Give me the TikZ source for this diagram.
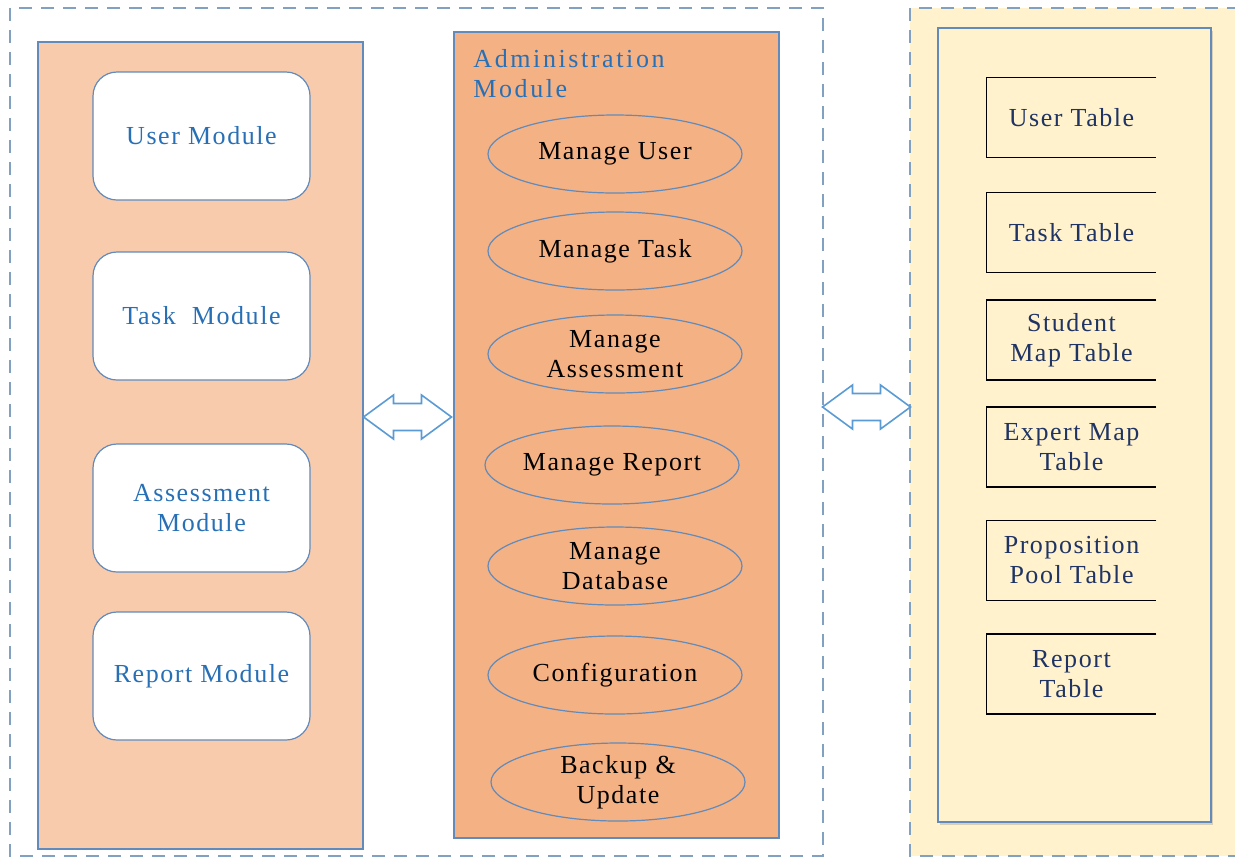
\documentclass[tikz,border=0pt]{standalone}
\usepackage{fontspec}
\setmainfont{Liberation Serif}[LetterSpace=6]
\usetikzlibrary{shapes.geometric,fit,shadows}

\definecolor{dashblue}{RGB}{130,160,192}
\definecolor{edgeblue}{RGB}{98,138,186}
\definecolor{arrowblue}{RGB}{91,155,213}
\definecolor{modtext}{RGB}{40,112,182}
\definecolor{tabletext}{RGB}{31,52,100}
\definecolor{modfill}{RGB}{248,203,173}
\definecolor{adminfill}{RGB}{244,177,131}
\definecolor{cream}{RGB}{255,242,204}

\def\linkarrow(#1){\draw[link] ([shift={(-44,0)}]#1) -- ++(30,-22) -- ++(0,8.5) -- ++(28,0) -- ++(0,-8.5) -- ++(30,22) -- ++(-30,22) -- ++(0,-8.5) -- ++(-28,0) -- ++(0,8.5) -- cycle;}

\tikzset{
	frame/.style={draw=dashblue, line width=1pt, dash pattern=on 6.5pt off 4.5pt},
	panel/.style={draw=edgeblue, line width=0.6pt, inner sep=0pt},
	modbox/.style={draw=edgeblue, line width=0.6pt, fill=white, rounded corners=12pt,
		minimum width=108.5pt, minimum height=64pt, align=center, text=modtext, font=\fontsize{13}{15}\selectfont},
	task/.style={ellipse, draw=edgeblue, line width=0.6pt, minimum width=127pt, minimum height=39pt,
		inner sep=0pt, align=center, font=\fontsize{13}{15}\selectfont},
	tbl/.style={minimum width=84.5pt, minimum height=39.5pt, inner sep=0pt, align=center,
		text=tabletext, font=\fontsize{13}{15}\selectfont},
	link/.style={draw=arrowblue, line width=0.8pt, fill=white, line join=miter}
}

\begin{document}
\begin{tikzpicture}[x=0.5pt, y=-0.5pt]
	%%%%% FRAMES %%%%%
	\useasboundingbox (0,0) rectangle (1235,858);
	\fill[cream] (910,8) rectangle (1240,856);
	\draw[frame] (10,8) rectangle (823,856);
	\draw[frame] (1240,8) -- (910,8) -- (910,856) -- (1240,856);
	
	%%%%% PANELS %%%%%
	\node[panel, fill=modfill, fit={(38,42) (363,849)}] (modpanel) {};
	\node[panel, fill=adminfill, fit={(454,32) (779,838)}] (adminpanel) {};
	\node[panel, fill=cream, drop shadow={opacity=0.3, shadow xshift=1pt, shadow yshift=-1.5pt}, fit={(938,28) (1211,822)}] (tablepanel) {};
	
	%%%%% MODULES %%%%%
	\node[modbox] (usermod) at (201.5,136) {User Module};
	\node[modbox] (taskmod) at (201.5,316) {Task\ \ Module};
	\node[modbox] (assessmod) at (201.5,508) {Assessment\\Module};
	\node[modbox] (reportmod) at (201.5,676) {Report Module};
	
	%%%%% ADMINISTRATION %%%%%
	\node[anchor=north west, inner sep=0pt, align=left, text=modtext, font=\fontsize{13}{15}\selectfont\addfontfeature{LetterSpace=10}] (admintitle) at (473,49) {Administration\\Module};
	
	\node[task] (manuser) at (615,154) {Manage User};
	\node[task] (mantask) at (615,251) {Manage Task};
	\node[task] (manassess) at (615,354) {Manage\\Assessment};
	\node[task] (manreport) at (612,465) {Manage Report};
	\node[task] (mandb) at (615,566) {Manage\\Database};
	\node[task] (config) at (615,675) {Configuration};
	\node[task] (backup) at (618,782) {Backup \&\\Update};
	
	%%%%% TABLES %%%%%
	\foreach \name/\ypos/\label in {usertbl/117.5/User Table, tasktbl/232.5/Task Table,
		studenttbl/340/Student\\Map Table, experttbl/447/Expert Map\\Table,
		proptbl/560.5/Proposition\\Pool Table, reporttbl/674/Report\\Table}{
		\node[tbl] (\name) at (1071.5,\ypos) {\label};
		\draw[line width=0.8pt] (\name.north east) -- (\name.north west) -- (\name.south west) -- (\name.south east);
	}
	
	%%%%% LINKS %%%%%
	\coordinate (leftlink) at (407.5,417);
	\coordinate (rightlink) at (866.5,407);
	\linkarrow(leftlink)
	\linkarrow(rightlink)
	
	%%%%% END %%%%%
\end{tikzpicture}
\end{document}
